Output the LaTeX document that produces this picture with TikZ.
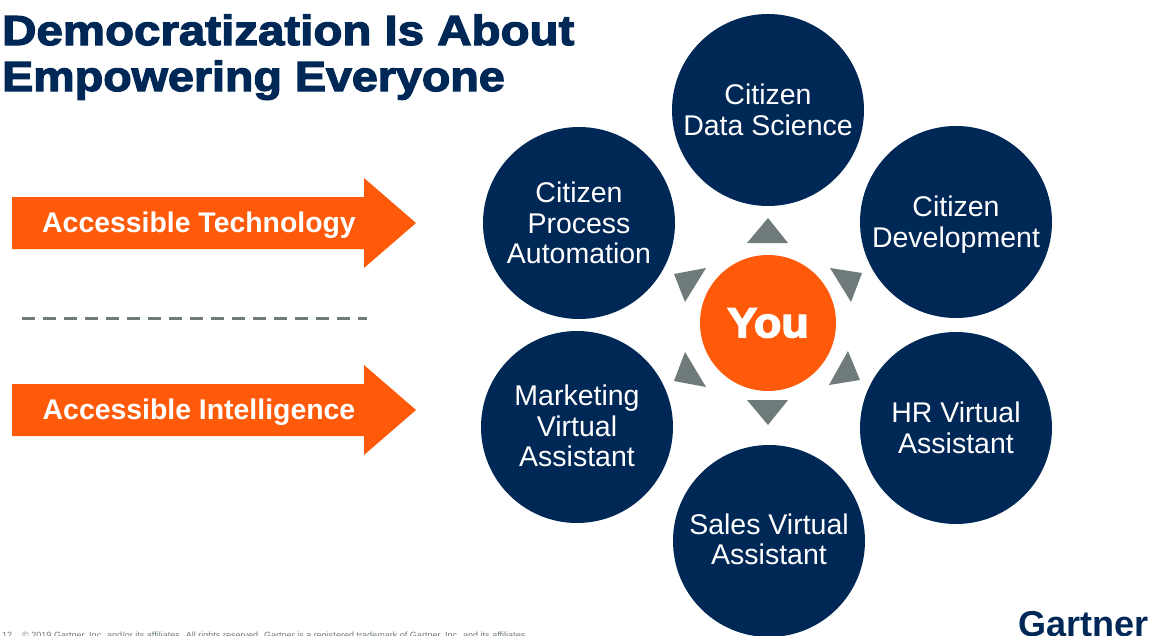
\documentclass[tikz,border=0pt]{standalone}
\usepackage{fontspec}
\setmainfont{Liberation Sans}
\newfontfamily\heavyfont[FakeBold=3,FakeStretch=1.13]{Liberation Sans Bold}
\newfontfamily\youfont[FakeBold=3.5,FakeStretch=1.07]{Liberation Sans Bold}
\definecolor{navy}{HTML}{002856}
\definecolor{flame}{HTML}{FF5A0A}
\definecolor{slate}{HTML}{6F7B7B}
\tikzset{
  bubble/.style={circle,fill=navy,text=white,minimum size=192pt,inner sep=0pt,align=center,
    font=\fontsize{28.5}{30.5}\selectfont},
  arrowlabel/.style={text=white,font=\bfseries\fontsize{28.4}{30}\selectfont},
  headline/.style={anchor=base west,inner sep=0pt,text=navy,font=\heavyfont\fontsize{42}{46}\selectfont},
  smallprint/.style={anchor=base west,inner sep=0pt,text=slate,font=\fontsize{9.05}{10}\selectfont}
}
\begin{document}
\begin{tikzpicture}[x=1pt,y=-1pt]
\useasboundingbox (0,0) rectangle (1149,635);

\node[headline] (titleone) at (2,45) {Democratization Is About};
\node[headline] (titletwo) at (2,91) {\addfontfeature{FakeStretch=1.11}Empowering Everyone};

\foreach \y/\name/\txt in {223/tech/Accessible Technology,410/intel/Accessible Intelligence}
{
\fill[flame] (12,\y-26)--(364,\y-26)--(364,\y-45)--(416,\y)--(364,\y+45)--(364,\y+26)--(12,\y+26)--cycle;
\node[arrowlabel] (\name) at (199,\y+2) {\txt};
}
\draw[slate,line width=3pt,dash pattern=on 13pt off 8pt] (22,318)--(367,318);

\node[bubble] (datasci) at (768,110) {Citizen\\Data Science};
\node[bubble] (dev) at (956,222) {\rule{0pt}{26pt}Citizen\\Development};
\node[bubble] (hr) at (956,428) {HR Virtual\\Assistant};
\node[bubble] (sales) at (769,541) {Sales Virtual\\\rule[-4pt]{0pt}{0pt}Assistant};
\node[bubble] (marketing) at (577,427) {Marketing\\Virtual\\\rule[-2pt]{0pt}{0pt}Assistant};
\node[bubble] (process) at (579,223) {Citizen\\Process\\Automation};

\node[circle,fill=flame,text=white,minimum size=136pt,inner sep=0pt,
  font=\youfont\fontsize{42}{48}\selectfont] (you) at (768,323) {You};

\foreach \p in {{(768,218)--(747,243)--(788,243)},{(768,425)--(747,400)--(788,400)},
  {(674,274)--(706,268)--(685,302)},{(830,268)--(862,273)--(851,302)},
  {(685,352)--(674,381)--(706,387)},{(848,351)--(860,380)--(829,385)}}
{
\fill[slate] \p--cycle;
}

\node[smallprint] (pageno) at (2,638.5) {12};
\node[smallprint] (legal) at (22,638.5)
  {© 2019 Gartner, Inc. and/or its affiliates. All rights reserved. Gartner is a registered trademark of Gartner, Inc. and its affiliates.};
\node[anchor=base west,inner sep=0pt,text=navy,font=\bfseries\fontsize{36}{40}\selectfont] (logo) at (1018,636) {Gartner};
\end{tikzpicture}
\end{document}
